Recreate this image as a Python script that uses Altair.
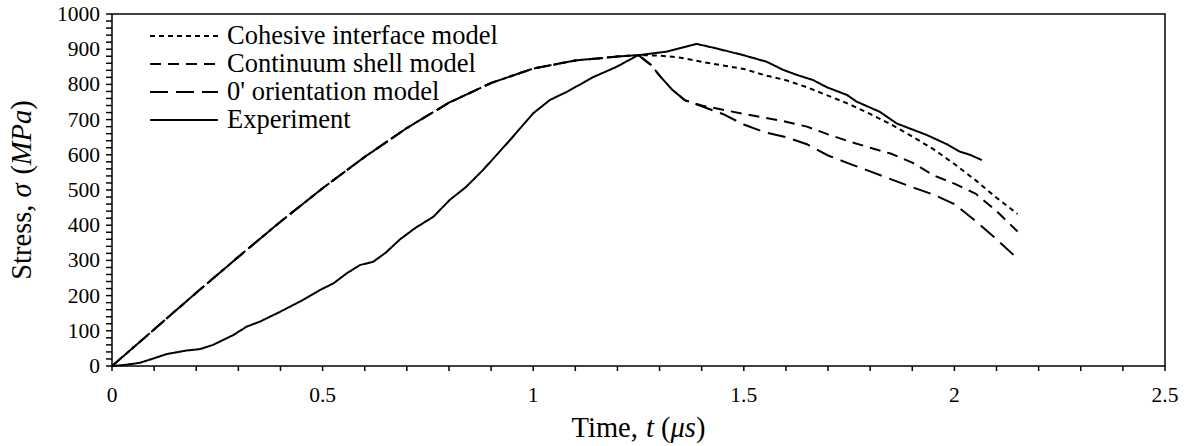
import altair as alt
import pandas as pd

# Shared rising branch of the three numerical models
rise_t = [0.0, 0.1, 0.2, 0.3, 0.4, 0.5, 0.6, 0.7, 0.8, 0.9, 1.0, 1.1, 1.2, 1.25]
rise_s = [0, 104, 208, 310, 410, 505, 594, 676, 748, 804, 845, 868, 879, 883]

coh_t = [1.30, 1.35, 1.40, 1.45, 1.50, 1.55, 1.60, 1.65, 1.70, 1.75, 1.80, 1.85,
         1.90, 1.95, 2.00, 2.05, 2.10, 2.15]
coh_s = [882, 876, 864, 854, 844, 826, 812, 792, 768, 744, 716, 686,
         652, 616, 574, 528, 478, 432]

shell_t = [1.28, 1.30, 1.33, 1.36, 1.40, 1.45, 1.50, 1.55, 1.60, 1.65, 1.70, 1.75,
           1.80, 1.85, 1.90, 1.95, 2.00, 2.05, 2.10, 2.15]
shell_s = [855, 825, 785, 755, 740, 728, 716, 705, 694, 680, 658, 638,
           620, 603, 578, 542, 518, 490, 440, 382]

ori_t = [1.28, 1.30, 1.33, 1.36, 1.40, 1.45, 1.50, 1.55, 1.60, 1.65, 1.70, 1.75,
         1.80, 1.85, 1.90, 1.95, 2.00, 2.05, 2.10, 2.15]
ori_s = [855, 825, 785, 755, 738, 716, 686, 664, 650, 630, 598, 575,
         553, 530, 508, 487, 460, 412, 360, 305]

exp_t = [0.0, 0.03, 0.066, 0.1, 0.13, 0.177, 0.209, 0.24, 0.288, 0.32, 0.351, 0.399,
         0.446, 0.494, 0.526, 0.557, 0.589, 0.62, 0.65, 0.684, 0.72, 0.763, 0.802, 0.84,
         0.881, 0.945, 1.0, 1.04, 1.08, 1.143, 1.198, 1.249, 1.317, 1.388, 1.436, 1.499,
         1.555, 1.594, 1.626, 1.665, 1.697, 1.745, 1.768, 1.823, 1.863, 1.935, 1.982,
         2.013, 2.037, 2.065]
exp_s = [0, 3, 9, 22, 34, 44, 48, 60, 88, 112, 126, 154,
         183, 216, 235, 263, 287, 296, 322, 360, 392, 424, 472, 508,
         557, 642, 718, 756, 779, 821, 850, 883, 893, 915, 902, 883,
         864, 841, 827, 812, 792, 770, 751, 722, 689, 656, 630,
         609, 600, 585]

names = ["Cohesive interface model", "Continuum shell model",
         "0' orientation model", "Experiment"]
dashes = [[5, 4], [11, 7], [18, 8], [1, 0]]

# Axis ticks and labels
x_minor = [round(i * 0.1, 6) for i in range(26)]
x_label_vals = [0, 0.5, 1, 1.5, 2, 2.5]
x_label_text = ["0", "0.5", "1", "1.5", "2", "2.5"]
y_minor = list(range(0, 1001, 20))
y_label_vals = list(range(0, 1001, 100))
y_label_text = [str(v) for v in y_label_vals]

# Axis titles (roman / italic pieces); spaces are handled as gaps
x_title_parts = [("Time,", "normal"), (" ", "gap"), ("t", "italic"), (" ", "gap"),
                 ("(", "normal"), ("μs", "italic"), (")", "normal")]
y_title_parts = [("Stress,", "normal"), (" ", "gap"), ("σ", "italic"), (" ", "gap"),
                 ("(", "normal"), ("MPa", "italic"), (")", "normal")]
em = {"Time,": 2.361, "t": 0.278, " ": 0.25, "(": 0.333, "μs": 0.889, ")": 0.333,
      "Stress,": 2.639, "σ": 0.55, "MPa": 1.944}

rows = []
series = [
    (names[0], rise_t + coh_t, rise_s + coh_s),
    (names[1], rise_t + shell_t, rise_s + shell_s),
    (names[2], rise_t + ori_t, rise_s + ori_s),
    (names[3], exp_t, exp_s),
]
for name, tt, ss in series:
    for i, (a, b) in enumerate(zip(tt, ss)):
        rows.append({"series": name, "t": a, "s": b, "order": i})
df = pd.DataFrame(rows)

FONT = "Liberation Serif"
W, H = 1053, 352
xscale = alt.Scale(domain=[0, 2.5], nice=False, zero=False)
yscale = alt.Scale(domain=[0, 1000], nice=False)
dom_axis = alt.Axis(labels=False, ticks=False, grid=False, domain=True,
                    domainColor="black", domainWidth=2, title=None)

lines = alt.Chart(df).mark_line(strokeWidth=2, color="black").encode(
    x=alt.X("t:Q", scale=xscale, axis=dom_axis),
    y=alt.Y("s:Q", scale=yscale, axis=dom_axis),
    strokeDash=alt.StrokeDash("series:N", scale=alt.Scale(domain=names, range=dashes), legend=None),
    detail="series:N",
    order="order:Q",
)

xt = alt.Chart(pd.DataFrame({"v": x_minor})).mark_rule(color="black", strokeWidth=1.5).encode(
    x=alt.X("v:Q", scale=xscale, axis=None), y=alt.value(H), y2=alt.value(H + 5))
# y ticks: thin rectangles left of the axis
yt = alt.Chart(pd.DataFrame({"w": y_minor})).transform_calculate(
    lo="datum.w - 2.1", hi="datum.w + 2.1"
).mark_rect(color="black", opacity=1).encode(
    y=alt.Y("lo:Q", scale=yscale, axis=None), y2="hi:Q",
    x=alt.value(-6), x2=alt.value(0))
xl = alt.Chart(pd.DataFrame({"v": x_label_vals, "lab": x_label_text})).mark_text(
    font=FONT, fontSize=21.5, color="black", align="center", baseline="alphabetic").encode(
    x=alt.X("v:Q", scale=xscale, axis=None), y=alt.value(H + 36), text="lab:N")
yl = alt.Chart(pd.DataFrame({"w": y_label_vals, "lab": y_label_text})).mark_text(
    font=FONT, fontSize=21.5, color="black", align="right", baseline="alphabetic", dy=7).encode(
    y=alt.Y("w:Q", scale=yscale, axis=None), x=alt.value(-12), text="lab:N")

layers = [lines, xt, yt, xl, yl]

# Axis titles built from pieces so that symbols can be italic
TF = 28.5
xw = sum(em[p] for p, _ in x_title_parts) * TF
pos = W / 2 - xw / 2
for txt, style in x_title_parts:
    if style != "gap":
        layers.append(alt.Chart(alt.Data(values=[{"s": txt}])).mark_text(
            font=FONT, fontSize=TF, fontStyle=style, color="black", align="left",
            baseline="alphabetic").encode(x=alt.value(pos), y=alt.value(H + 71), text="s:N"))
    pos += em[txt] * TF
yw = sum(em[p] for p, _ in y_title_parts) * TF
pos = H / 2 + yw / 2
for txt, style in y_title_parts:
    if style != "gap":
        layers.append(alt.Chart(alt.Data(values=[{"s": txt}])).mark_text(
            font=FONT, fontSize=TF, fontStyle=style, color="black", align="left",
            baseline="alphabetic", angle=270).encode(x=alt.value(-81), y=alt.value(pos), text="s:N"))
    pos -= em[txt] * TF

# Legend
leg_y = [22, 50, 78, 106]
for name, dsh, yy in zip(names, dashes, leg_y):
    d = alt.Data(values=[{"label": name}])
    layers.append(
        alt.Chart(d).mark_rule(strokeWidth=2, color="black", strokeDash=dsh).encode(
            x=alt.value(38), x2=alt.value(106), y=alt.value(yy))
    )
    layers.append(
        alt.Chart(d).mark_text(align="left", baseline="middle", font=FONT, fontSize=26.5,
                               color="black").encode(
            x=alt.value(115), y=alt.value(yy), text="label:N")
    )

chart = alt.layer(*layers).properties(
    width=W, height=H,
    autosize=alt.AutoSizeParams(type="none"),
    padding={"left": 112, "top": 14, "right": 23, "bottom": 80},
).configure_view(
    stroke="black", strokeWidth=1.5
)

chart.save("out.html", embed_options={"renderer": "svg", "actions": False})
